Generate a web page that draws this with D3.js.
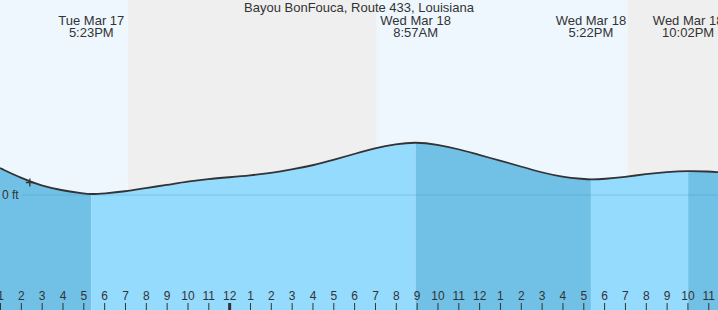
<!DOCTYPE html>
<html>
<head>
<meta charset="utf-8">
<script src="https://cdn.jsdelivr.net/npm/d3@7"></script>
<style>
  body { margin: 0; background: #fff; }
  svg { display: block; font-family: 'Liberation Sans', Arial, sans-serif; }
</style>
</head>
<body>
<div class="chart"></div>
<script>
'use strict';

// Data (heights in ft, local times)
const title = 'Bayou BonFouca, Route 433, Louisiana';
const hourTimes = [
  '2026-03-17 13:00', '2026-03-17 14:00', '2026-03-17 15:00', '2026-03-17 16:00',
  '2026-03-17 17:00', '2026-03-17 18:00', '2026-03-17 19:00', '2026-03-17 20:00',
  '2026-03-17 21:00', '2026-03-17 22:00', '2026-03-17 23:00', '2026-03-18 00:00',
  '2026-03-18 01:00', '2026-03-18 02:00', '2026-03-18 03:00', '2026-03-18 04:00',
  '2026-03-18 05:00', '2026-03-18 06:00', '2026-03-18 07:00', '2026-03-18 08:00',
  '2026-03-18 10:00', '2026-03-18 11:00', '2026-03-18 12:00',
  '2026-03-18 13:00', '2026-03-18 14:00', '2026-03-18 15:00', '2026-03-18 16:00',
  '2026-03-18 17:00', '2026-03-18 18:00', '2026-03-18 19:00', '2026-03-18 20:00',
  '2026-03-18 21:00', '2026-03-18 23:00', '2026-03-18 23:30'
];
const hourHeights = [
  0.54, 0.34, 0.18, 0.09, 0.03, 0.03, 0.07, 0.14,
  0.20, 0.27, 0.32, 0.355, 0.39, 0.44, 0.51, 0.59,
  0.70, 0.82, 0.94, 1.02, 1.01, 0.92, 0.80,
  0.69, 0.57, 0.45, 0.36, 0.32, 0.32, 0.36, 0.42,
  0.46, 0.47, 0.455
];
const extremeTimes = ['2026-03-17 17:23', '2026-03-18 08:57', '2026-03-18 17:22', '2026-03-18 22:02'];
const extremeHeights = [0.015, 1.06, 0.31, 0.485];
const extremeTypes = ['low', 'high', 'low', 'high'];
const sunTimes = ['2026-03-17 19:08', '2026-03-18 07:05', '2026-03-18 19:08'];
const nowTime = '2026-03-17 14:26';
const nowHeight = 0.25;
const startTime = '2026-03-17 13:00';
const endTime = '2026-03-18 23:28';

// Initialize
const w = 718;
const h = 310;
const dayColor = '#eef7fe';
const nightColor = '#efefef';
const riseColor = '#95dbfd';
const fallColor = '#71c1e6';

const parse = d3.timeParse('%Y-%m-%d %H:%M');

const svg = d3.select('.chart')
              .append('svg')
              .attr('width', w)
              .attr('height', h);

const xScale = d3.scaleTime()
                 .domain([parse(startTime), parse(endTime)])
                 .range([0, w]);

const yScale = d3.scaleLinear()
                 .domain([0, 1])
                 .range([195, 145]);

// Day / night background
const sun = sunTimes.map(parse);
const bgEdges = [parse(startTime), ...sun, parse(endTime)];
svg.selectAll('.bg')
  .data(d3.pairs(bgEdges))
  .enter()
  .append('rect')
  .attr('x', d => xScale(d[0]))
  .attr('width', d => xScale(d[1]) - xScale(d[0]))
  .attr('y', 0)
  .attr('height', h)
  .attr('fill', (d, i) => i % 2 === 0 ? dayColor : nightColor);

// Tide points
const points = hourTimes.map((t, i) => [parse(t), hourHeights[i]])
  .concat(extremeTimes.map((t, i) => [parse(t), extremeHeights[i]]))
  .sort((a, b) => a[0] - b[0]);

const area = d3.area()
  .curve(d3.curveBasis)
  .x(d => xScale(d[0]))
  .y0(h)
  .y1(d => yScale(d[1]));

const line = d3.line()
  .curve(d3.curveBasis)
  .x(d => xScale(d[0]))
  .y(d => yScale(d[1]));

// Rising / falling segments between extremes
const ext = extremeTimes.map(parse);
const segEdges = [parse(startTime), ...ext, parse(endTime)];
const defs = svg.append('defs');
d3.pairs(segEdges).forEach((seg, i) => {
  defs.append('clipPath')
    .attr('id', `seg${i}`)
    .append('rect')
    .attr('x', xScale(seg[0]))
    .attr('width', xScale(seg[1]) - xScale(seg[0]))
    .attr('y', 0)
    .attr('height', h);
  // first segment ends at a low -> falling
  const falling = i === 0 ? extremeTypes[0] === 'low' : extremeTypes[i - 1] === 'high';
  svg.append('path')
    .datum(points)
    .attr('clip-path', `url(#seg${i})`)
    .attr('d', area)
    .attr('fill', falling ? fallColor : riseColor);
});

// Zero line
svg.append('line')
  .attr('x1', 22)
  .attr('x2', w)
  .attr('y1', yScale(0))
  .attr('y2', yScale(0))
  .attr('stroke', '#2b8cc4')
  .attr('stroke-opacity', 0.25)
  .attr('stroke-width', 1);

svg.append('text')
  .attr('x', 2)
  .attr('y', yScale(0) + 4)
  .attr('font-size', 12)
  .attr('fill', '#333')
  .text('0 ft');

// Tide curve
svg.append('path')
  .datum(points)
  .attr('d', line)
  .attr('fill', 'none')
  .attr('stroke', '#333')
  .attr('stroke-width', 1.8);

// Current time marker
const nowX = xScale(parse(nowTime));
const nowY = yScale(nowHeight);
svg.append('path')
  .attr('d', `M${nowX - 4},${nowY}H${nowX + 4}M${nowX},${nowY - 4}V${nowY + 4}`)
  .attr('stroke', '#333')
  .attr('stroke-width', 1.3);

// Title
svg.append('text')
  .attr('x', w / 2)
  .attr('y', 12)
  .attr('text-anchor', 'middle')
  .attr('font-size', 13)
  .attr('fill', '#333')
  .text(title);

// High / low labels
const fmtDay = d3.timeFormat('%a %b %-d');
const fmtTime = d3.timeFormat('%-I:%M%p');
const labels = svg.selectAll('.hl')
  .data(ext)
  .enter()
  .append('text')
  .attr('text-anchor', 'middle')
  .attr('font-size', 13)
  .attr('fill', '#333');

labels.append('tspan')
  .attr('x', d => xScale(d))
  .attr('y', 25)
  .text(d => fmtDay(d));

labels.append('tspan')
  .attr('x', d => xScale(d))
  .attr('y', 37)
  .text(d => fmtTime(d));

// Hour axis
const xAxis = d3.axisTop(xScale)
  .ticks(d3.timeHour.every(1))
  .tickSizeInner(7)
  .tickSizeOuter(0)
  .tickPadding(3)
  .tickFormat(d3.timeFormat('%-I'));

const axisG = svg.append('g')
  .attr('transform', `translate(0, ${h})`)
  .call(xAxis);

axisG.select('.domain').remove();
axisG.selectAll('.tick line')
  .attr('stroke', '#333')
  .attr('stroke-width', d => d.getHours() === 0 ? 3 : 1);
axisG.selectAll('.tick text')
  .attr('fill', '#333')
  .attr('font-size', 12)
  .attr('font-family', "'Liberation Sans', Arial, sans-serif");
</script>
</body>
</html>
